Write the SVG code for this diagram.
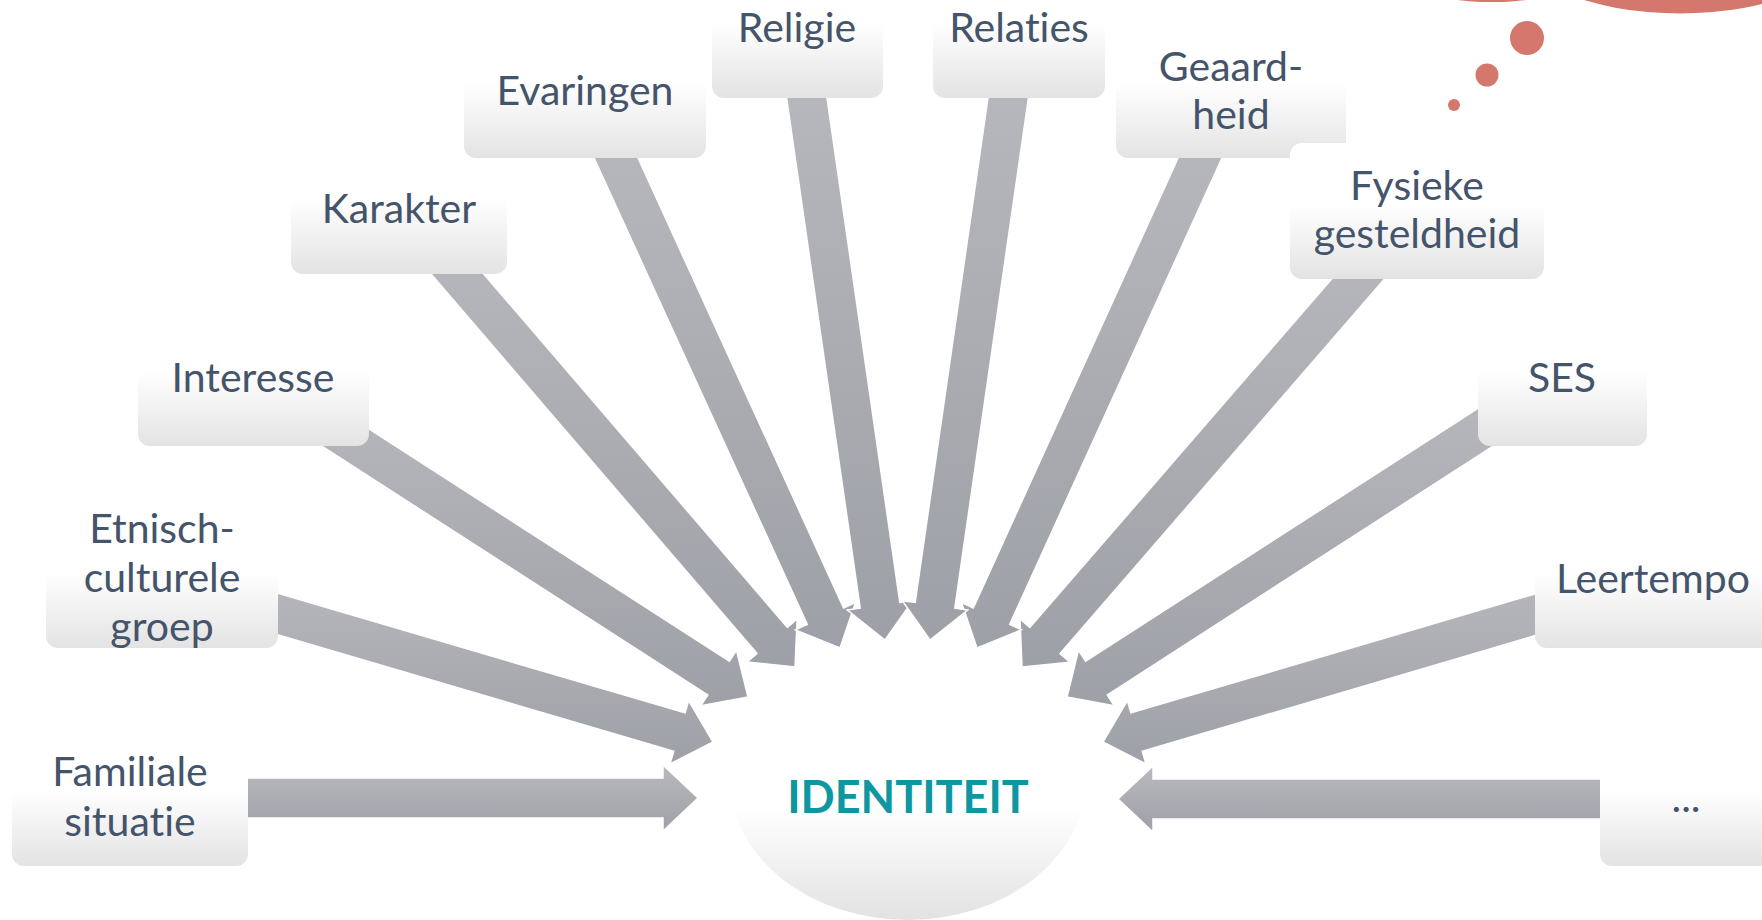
<svg xmlns="http://www.w3.org/2000/svg" width="1762" height="920" viewBox="0 0 1762 920">
<defs>
<linearGradient id="boxg" x1="0" y1="0" x2="0" y2="1">
<stop offset="0" stop-color="#ffffff"/>
<stop offset="0.45" stop-color="#ffffff"/>
<stop offset="1" stop-color="#e3e3e4"/>
</linearGradient>
<linearGradient id="ellg" x1="0" y1="0" x2="0" y2="1">
<stop offset="0" stop-color="#ffffff"/>
<stop offset="0.6" stop-color="#ffffff"/>
<stop offset="1" stop-color="#e2e2e3"/>
</linearGradient>
<linearGradient id="arrg" x1="0" y1="0" x2="0" y2="1">
<stop offset="0" stop-color="#b8babf"/>
<stop offset="1" stop-color="#9ea0a7"/>
</linearGradient>
<style>
.box{fill:url(#boxg);}
.arr{fill:url(#arrg);stroke:#ffffff;stroke-width:1.5;stroke-linejoin:miter;}
.lbl{font-family:Lato,"Liberation Sans",sans-serif;font-size:41px;fill:#44546a;text-anchor:middle;font-variant-ligatures:none;}
.dot{fill:#d4776c;}
</style>
</defs>
<rect x="0" y="0" width="1762" height="920" fill="#ffffff"/>
<g id="decor">
<ellipse class="dot" cx="1680" cy="-60" rx="166" ry="73.5"/>
<ellipse class="dot" cx="1492" cy="-30" rx="100" ry="32"/>
<circle class="dot" cx="1527" cy="38" r="17"/>
<circle class="dot" cx="1487" cy="75" r="11.5"/>
<circle class="dot" cx="1454" cy="105" r="6"/>
</g>
<g id="identiteit">
<ellipse cx="908" cy="780" rx="178" ry="140" fill="url(#ellg)"/>
<text x="908" y="813" font-family="Lato,'Liberation Sans',sans-serif" font-size="45" font-weight="bold" fill="#0f97a1" text-anchor="middle">IDENTITEIT</text>
</g>
<g id="connectors">
<polygon class="arr" points="130,778 663,778 663,765 698,798 663,831 663,818 130,818"/>
<polygon class="arr" points="1686,779 1153,779 1153,766 1118,799 1153,832 1153,819 1686,819"/>
<polygon class="arr" points="167.6,560.8 685.1,712.9 688.7,700.5 713,742 670.1,763.8 673.8,751.3 156.4,599.2"/>
<polygon class="arr" points="1647.4,560.8 1130.9,712.9 1127.3,700.5 1103,742 1145.9,763.8 1142.2,751.3 1658.7,599.2"/>
<polygon class="arr" points="263.8,361.2 729.4,661.2 736.5,650.3 748,697 700.7,705.8 707.8,694.9 242.2,394.8"/>
<polygon class="arr" points="1551.2,361.2 1085.6,661.2 1078.5,650.3 1067,697 1114.3,705.8 1107.3,694.9 1572.8,394.8"/>
<polygon class="arr" points="414.2,193.0 787.4,627.4 797.2,619.0 795,667 747.2,662.0 757.0,653.5 383.8,219.0"/>
<polygon class="arr" points="1401.9,197.9 1029.8,627.5 1020.0,618.9 1022,667 1069.9,662.2 1060.0,653.6 1432.1,224.1"/>
<polygon class="arr" points="603.2,81.7 843.6,607.9 855.5,602.5 840,648 795.4,629.9 807.3,624.5 566.8,98.3"/>
<polygon class="arr" points="1212.8,81.7 973.3,607.9 961.5,602.5 977,648 1021.5,629.8 1009.7,624.4 1249.2,98.3"/>
<polygon class="arr" points="816.8,27.1 899.8,602.5 912.7,600.7 885,640 847.3,610.1 860.2,608.2 777.2,32.9"/>
<polygon class="arr" points="998.2,27.1 915.2,602.5 902.3,600.7 930,640 967.7,610.1 954.8,608.2 1037.8,32.9"/>
</g>
<g id="familiale">
<rect class="box" x="12" y="730" width="236" height="136" rx="12"/>
<text class="lbl" x="130" y="786">Familiale</text>
<text class="lbl" x="130" y="836">situatie</text>
</g>
<g id="etnisch">
<rect class="box" x="46" y="512" width="232" height="136" rx="12"/>
<text class="lbl" x="162" y="543">Etnisch-</text>
<text class="lbl" x="162" y="592">culturele</text>
<text class="lbl" x="162" y="641">groep</text>
</g>
<g id="interesse">
<rect class="box" x="138" y="310" width="231" height="136" rx="12"/>
<text class="lbl" x="253" y="392">Interesse</text>
</g>
<g id="karakter">
<rect class="box" x="291" y="138" width="216" height="136" rx="12"/>
<text class="lbl" x="399" y="223">Karakter</text>
</g>
<g id="evaringen">
<rect class="box" x="464" y="22" width="242" height="136" rx="12"/>
<text class="lbl" x="585" y="105">Evaringen</text>
</g>
<g id="religie">
<rect class="box" x="712" y="-38" width="171" height="136" rx="12"/>
<text class="lbl" x="797" y="42">Religie</text>
</g>
<g id="relaties">
<rect class="box" x="933" y="-38" width="172" height="136" rx="12"/>
<text class="lbl" x="1019" y="42">Relaties</text>
</g>
<g id="geaardheid">
<rect class="box" x="1116" y="22" width="230" height="136" rx="12"/>
<text class="lbl" x="1231" y="81">Geaard-</text>
<text class="lbl" x="1231" y="129">heid</text>
</g>
<g id="fysieke">
<rect class="box" x="1290" y="143" width="254" height="136" rx="12"/>
<text class="lbl" x="1417" y="200">Fysieke</text>
<text class="lbl" x="1417" y="248">gesteldheid</text>
</g>
<g id="ses">
<rect class="box" x="1478" y="310" width="169" height="136" rx="12"/>
<text class="lbl" x="1562" y="392">SES</text>
</g>
<g id="leertempo">
<rect class="box" x="1535" y="512" width="237" height="136" rx="12"/>
<text class="lbl" x="1653" y="593">Leertempo</text>
</g>
<g id="overig">
<rect class="box" x="1600" y="730" width="172" height="136" rx="12"/>
<text class="lbl" x="1686" y="812">...</text>
</g>
</svg>
